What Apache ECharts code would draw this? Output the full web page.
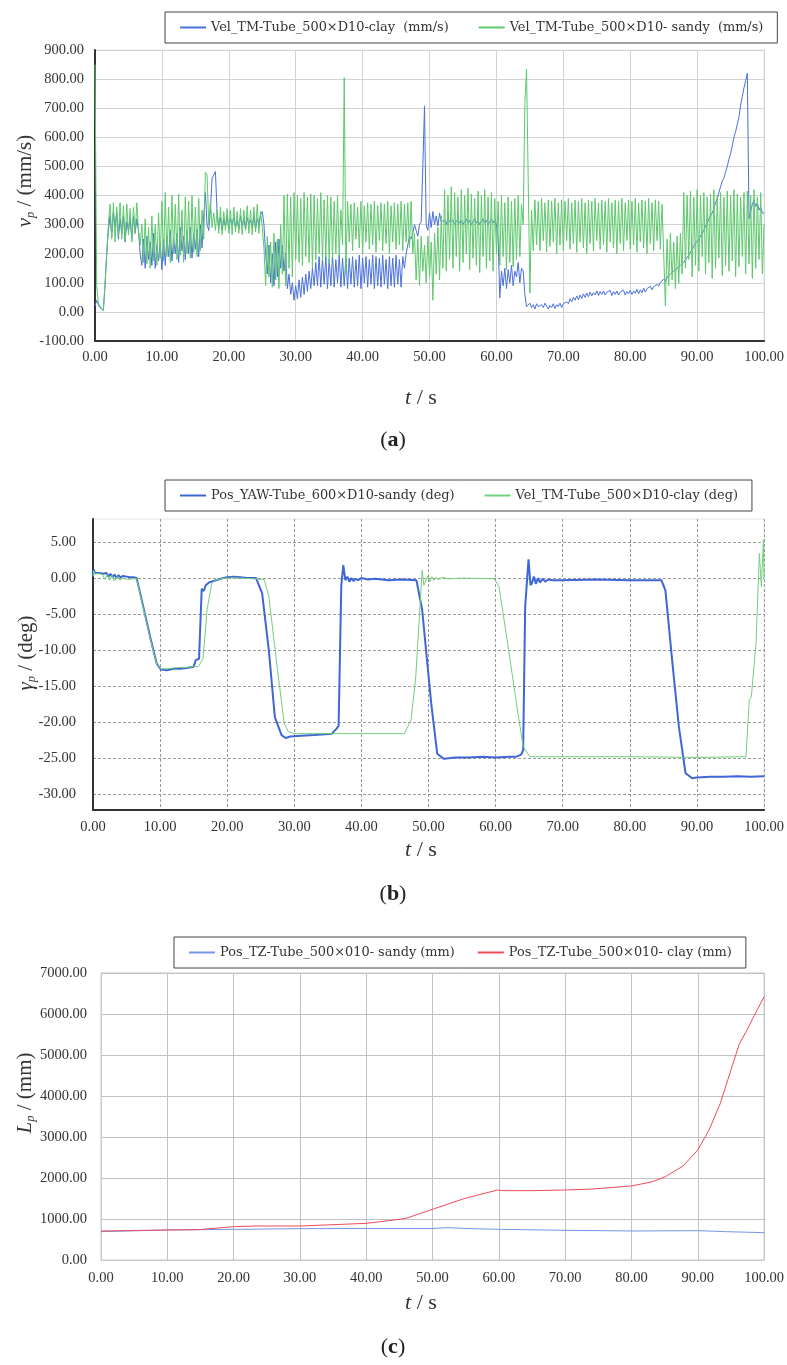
<!DOCTYPE html>
<html><head><meta charset="utf-8">
<script src="https://cdn.jsdelivr.net/npm/echarts@6/dist/echarts.min.js"></script>
<style>html,body{margin:0;padding:0;background:#fff}#c{width:787px;height:1365px}</style>
</head><body><div id="c"></div>
<script>
// ---------- Panel (a): velocity, sampled every 0.25 s ----------
const DT_A = 0.25;
const velClay = [
20,40,25,15,10,5,90,200,
280,330,260,340,290,345,250,320,
270,330,240,310,280,320,250,330,
270,320,280,200,160,250,150,260,
180,240,160,270,150,230,175,240,
145,250,160,260,190,280,175,250,
200,270,170,290,210,260,180,280,
200,290,185,270,215,285,190,300,
220,330,410,300,280,350,460,470,
482,340,290,325,280,320,295,330,
285,320,300,325,290,315,285,330,
295,320,285,325,300,315,290,330,
285,320,300,335,345,300,200,130,
230,100,200,90,240,120,250,150,
230,140,200,80,130,60,100,40,
90,45,110,50,120,60,130,70,
140,80,150,90,170,90,190,85,
185,95,190,80,180,90,195,85,
180,100,195,85,185,90,190,80,
185,95,190,85,180,90,195,80,
185,100,190,85,180,95,195,80,
190,90,185,85,195,95,180,80,
190,90,185,85,195,95,180,85,
190,150,200,230,260,250,270,300,
280,260,300,310,500,708,300,280,
340,290,345,300,330,295,340,310,
305,315,300,320,310,305,315,300,
310,320,305,315,300,310,320,305,
315,300,310,320,305,315,300,310,
320,305,315,300,310,320,305,315,
300,250,48,140,90,150,80,145,
100,160,90,140,120,170,100,150,
140,60,18,20,30,15,25,10,
28,18,12,25,15,30,20,10,
22,15,28,12,25,18,30,15,
28,22,35,28,45,35,50,40,
55,42,58,46,62,50,65,52,
68,55,66,58,72,56,70,60,
72,58,68,62,74,56,70,60,
72,58,68,62,75,58,70,62,
74,60,72,64,78,62,76,66,
82,68,80,74,88,76,86,82,
95,88,102,96,112,104,120,115,
130,125,140,138,150,148,160,165,
170,179,185,195,200,215,220,235,
240,250,255,270,280,295,305,320,
325,340,355,375,390,410,430,450,
460,480,500,525,545,570,600,620,
645,670,710,740,770,795,820,320,
316,370,385,362,375,350,360,340,
339];
const velSandy = [
850,90,30,20,12,5,100,200,
300,370,250,375,240,360,260,375,
250,365,245,370,265,355,240,360,
270,375,280,230,300,170,320,165,
290,150,330,175,300,160,340,185,
380,175,410,190,360,170,400,200,
370,180,405,195,350,170,395,200,
380,185,400,205,360,190,390,210,
350,250,480,470,300,380,290,340,
280,350,270,360,265,345,280,355,
270,350,265,360,275,345,270,355,
265,350,280,365,270,350,265,360,
275,370,270,345,290,220,90,260,
120,240,85,270,110,250,80,300,
130,400,90,405,150,395,120,410,
180,400,170,390,160,410,190,395,
170,405,150,400,180,390,200,410,
175,385,190,400,165,395,185,380,
200,400,190,350,230,805,130,380,
240,370,210,375,250,360,220,380,
200,365,240,375,215,370,230,380,
205,365,245,375,210,370,235,380,
200,365,240,375,215,370,230,380,
210,370,240,375,220,380,200,270,
110,250,90,260,140,230,100,260,
120,240,40,270,130,290,110,330,
150,420,140,400,180,430,150,410,
190,395,140,420,170,400,200,425,
145,405,185,390,160,415,135,400,
190,420,150,395,175,410,140,390,
200,380,160,400,190,375,145,395,
170,380,155,390,180,400,190,370,
300,720,834,830,64,350,210,385,
230,380,210,390,245,375,205,385,
225,380,240,390,200,375,230,385,
210,380,245,390,215,375,235,385,
205,380,240,390,220,375,200,385,
235,380,210,390,245,375,215,385,
230,380,205,390,240,375,220,385,
200,380,235,390,210,375,245,385,
215,380,230,390,205,375,240,385,
220,380,200,390,235,375,210,385,
245,380,215,370,200,20,250,90,
270,110,240,80,260,100,270,130,
410,150,400,180,415,120,395,160,
420,140,400,190,410,130,395,170,
405,115,420,150,400,185,410,125,
395,160,415,140,400,175,420,120,
405,155,395,190,410,130,415,165,
400,115,420,150,395,180,410,130,
300];

// ---------- Panel (b): yaw angle [t, deg] ----------
const yawSandy = [[0,0.3],[0.1,1.2],[0.3,0.7],[1,0.7],[1.5,0.6],[2,0.7],[2.3,0.2],[2.6,0.6],[2.9,0.1],[3.2,0.5],[3.5,0],[3.8,0.4],[4.1,0.1],[4.5,0.3],[5,0.2],[5.5,0.1],[6,0.1],[6.5,0],[7.5,-4],[8.5,-8.1],[9.5,-11.9],[10.1,-12.7],[11,-12.8],[12,-12.6],[13,-12.6],[14,-12.5],[15,-12.3],[15.3,-11.4],[15.8,-11.2],[16.2,-1.5],[16.5,-1.8],[16.8,-1],[17.3,-0.6],[18,-0.4],[19,-0.1],[20,0.1],[21,0.2],[22,0.1],[23,0],[24.3,0],[25.2,-2.1],[26.2,-10],[27.1,-19.3],[28.1,-21.8],[28.7,-22.2],[29.4,-22],[31,-21.9],[33,-21.8],[35.6,-21.6],[36.3,-20.9],[36.6,-20.5],[37.0,-1],[37.3,1.8],[37.6,-0.3],[37.9,0.2],[38.2,-0.5],[38.5,0],[38.8,-0.4],[39.1,-0.1],[39.5,-0.3],[40,0],[41,-0.2],[42,-0.1],[44,-0.3],[46,-0.2],[48.2,-0.3],[49.05,-4.4],[50.4,-17.4],[51.3,-24.4],[52.3,-25.1],[53,-25],[54,-24.9],[56,-24.9],[58,-24.8],[60,-24.9],[62,-24.8],[63.1,-24.8],[63.8,-24.5],[64.1,-23.9],[64.4,-4],[64.9,2.6],[65.2,-1],[65.4,-0.7],[65.7,0.2],[66,-0.8],[66.3,0],[66.6,-0.6],[67,-0.1],[67.4,-0.5],[67.8,-0.2],[68.5,-0.3],[70,-0.3],[75,-0.2],[80,-0.3],[84.7,-0.3],[85.3,-1.7],[86.3,-11.4],[87.3,-20.6],[88.3,-27.1],[89.3,-27.8],[90,-27.7],[92,-27.6],[94,-27.6],[96,-27.5],[98,-27.6],[100,-27.5]];
const yawClay = [[0,0.2],[0.1,1],[0.3,0.6],[1,0.6],[1.4,0.5],[1.8,-0.2],[2.1,0.5],[2.5,-0.3],[2.8,0.4],[3.2,-0.4],[3.6,0.2],[4,-0.3],[4.5,0],[5,-0.2],[6,-0.1],[6.5,-0.1],[7.5,-4.2],[8.5,-8.3],[9.5,-12],[10.1,-12.6],[11,-12.6],[12,-12.5],[13,-12.4],[14,-12.4],[15,-12.3],[15.7,-12.3],[16.4,-11.2],[17,-4.4],[17.7,-0.7],[18.3,-0.3],[19,-0.1],[20,0],[22,0],[24,-0.1],[25.5,-0.2],[26.2,-2.5],[27.5,-12.8],[28.5,-20.2],[29.1,-21.3],[30,-21.6],[35,-21.6],[40,-21.6],[46.4,-21.6],[47.4,-19.7],[48.1,-13.7],[48.7,-4.4],[49.05,1.1],[49.3,-1],[49.6,-0.4],[49.9,0.3],[50.2,-0.5],[50.5,0.2],[50.8,-0.3],[51.1,0.1],[51.5,-0.2],[52,0.1],[53,-0.1],[55,0],[59.8,-0.1],[60.5,-1.2],[61.8,-9.1],[63.1,-17.4],[64.1,-23.4],[65.1,-24.8],[70,-24.8],[80,-24.8],[90,-24.9],[97.3,-24.8],[97.8,-16.9],[98.1,-16.5],[98.8,-9.1],[99.3,3.4],[99.6,-1.2],[99.9,5.3],[100,0]];
const yawTicks = [-30,-25,-20,-15,-10,-5,0,5];

// ---------- Panel (c): position TZ [t, mm] ----------
const tzSandy = [[0,691],[10,732],[20,748],[30,764],[40,768],[50,768],[52.2,789],[54.9,770],[60,748],[70,724],[80,707],[90,715],[94.3,691],[100,667]];
const tzClay = [[0,707],[10,732],[14.7,740],[20,813],[23.3,829],[30,830],[33.8,854],[40,894],[43,951],[46,1016],[50,1236],[54.9,1504],[59.8,1707],[60.5,1692],[64.7,1691],[70,1707],[74,1730],[80,1805],[83.2,1911],[85.1,2033],[87.8,2293],[90,2683],[91.7,3171],[93.4,3821],[95,4634],[96.3,5285],[97.3,5569],[98.3,5894],[100,6420]];

const names = {
  aClay: 'Vel_TM-Tube_500×D10-clay  (mm/s)',
  aSandy: 'Vel_TM-Tube_500×D10- sandy  (mm/s)',
  bSandy: 'Pos_YAW-Tube_600×D10-sandy (deg)',
  bClay: 'Vel_TM-Tube_500×D10-clay (deg)',
  cSandy: 'Pos_TZ-Tube_500×010- sandy (mm)',
  cClay: 'Pos_TZ-Tube_500×010- clay (mm)'
};

const SERIF = "'DejaVu Serif', 'Liberation Serif', serif";
const TSERIF = "'Liberation Serif', 'DejaVu Serif', serif";
const TICK = { fontFamily: TSERIF, fontSize: 14.5, color: '#333' };
const fmt2 = v => v.toFixed(2);
const withT = (arr, dt) => arr.map((v, i) => [i * dt, v]);

function xAx(gi, gridStyle, axisColor, axisW, margin) {
  return {
    type: 'value', gridIndex: gi, min: 0, max: 100, interval: 10,
    axisLine: { show: true, onZero: false, lineStyle: { color: axisColor, width: axisW } },
    axisTick: { show: false },
    axisLabel: Object.assign({ formatter: fmt2, margin: margin }, TICK),
    splitLine: { show: true, lineStyle: gridStyle }
  };
}

const chart = echarts.init(document.getElementById('c'), null, { renderer: 'canvas' });
const gridA = { color: '#d2d2d2', width: 1 };
const gridB = { color: '#9a9a9a', width: 1, type: [3, 2] };
const gridC = { color: '#c2c2c2', width: 1 };

const legendBase = {
  orient: 'horizontal', icon: 'rect', itemWidth: 26, itemHeight: 2, itemGap: 30,
  borderColor: '#444', borderWidth: 1, padding: [9, 14, 9, 15],
  textStyle: { fontFamily: SERIF, fontSize: 12.9, color: '#333' }
};

function yTitle(x, y, main, sub, rest) {
  return {
    type: 'text', x: x, y: y, rotation: Math.PI / 2,
    style: {
      text: '{m|' + main + '}{s|' + sub + '}{r|' + rest + '}',
      align: 'center', verticalAlign: 'middle', fill: '#333',
      rich: {
        m: { fontFamily: TSERIF, fontStyle: 'italic', fontSize: 21, lineHeight: 24, verticalAlign: 'middle', fill: '#333' },
        s: { fontFamily: TSERIF, fontStyle: 'italic', fontSize: 12.5, lineHeight: 24, verticalAlign: 'bottom', fill: '#333' },
        r: { fontFamily: TSERIF, fontSize: 21, lineHeight: 24, verticalAlign: 'middle', fill: '#333' }
      }
    }
  };
}
function xTitle(x, y) {
  return {
    type: 'text', x: x, y: y,
    style: {
      text: '{m|t}{r| / s}', align: 'center', verticalAlign: 'middle',
      rich: {
        m: { fontFamily: TSERIF, fontStyle: 'italic', fontSize: 22, fill: '#333' },
        r: { fontFamily: TSERIF, fontSize: 22, fill: '#333' }
      }
    }
  };
}
function panelTag(x, y, letter) {
  return {
    type: 'text', x: x, y: y,
    style: {
      text: '{r|(}{b|' + letter + '}{r|)}', align: 'center', verticalAlign: 'middle',
      rich: {
        r: { fontFamily: TSERIF, fontSize: 22, fill: '#222' },
        b: { fontFamily: TSERIF, fontSize: 22, fontWeight: 'bold', fill: '#222' }
      }
    }
  };
}

const option = {
  animation: false,
  backgroundColor: '#fff',
  grid: [
    { left: 95, top: 50, width: 671, height: 291, show: true, borderColor: '#e4e4e4', borderWidth: 1 },
    { left: 93, top: 519, width: 675, height: 291, show: true, borderColor: '#e4e4e4', borderWidth: 1 },
    { left: 101, top: 973, width: 669, height: 287, show: true, borderColor: '#c8c8c8', borderWidth: 1 }
  ],
  legend: [
    Object.assign({}, legendBase, { left: 165, top: 12, data: [names.aClay, names.aSandy] }),
    Object.assign({}, legendBase, { left: 165, top: 480, data: [names.bSandy, names.bClay] }),
    Object.assign({}, legendBase, { left: 174, top: 937, itemGap: 23, data: [names.cSandy, names.cClay] })
  ],
  xAxis: [
    xAx(0, gridA, '#333', 2, 9),
    xAx(1, gridB, '#333', 2, 10),
    xAx(2, gridC, '#c8c8c8', 1, 11)
  ],
  yAxis: [
    {
      type: 'value', gridIndex: 0, min: -100, max: 900, interval: 100,
      axisLine: { show: true, onZero: false, lineStyle: { color: '#333', width: 2 } },
      axisTick: { show: false },
      axisLabel: Object.assign({ formatter: fmt2, margin: 11 }, TICK),
      splitLine: { show: true, lineStyle: gridA }
    },
    {
      type: 'value', gridIndex: 1, min: -32.2, max: 8.2,
      axisLine: { show: true, onZero: false, lineStyle: { color: '#333', width: 2 } },
      axisTick: { show: false, customValues: yawTicks },
      axisLabel: Object.assign({ customValues: yawTicks, formatter: fmt2, margin: 17 }, TICK),
      splitLine: { show: true, lineStyle: gridB }
    },
    {
      type: 'value', gridIndex: 2, min: 0, max: 7000, interval: 1000,
      axisLine: { show: true, onZero: false, lineStyle: { color: '#c8c8c8', width: 1 } },
      axisTick: { show: false },
      axisLabel: Object.assign({ formatter: fmt2, margin: 14 }, TICK),
      splitLine: { show: true, lineStyle: gridC }
    }
  ],
  series: [
    { name: names.aClay, type: 'line', xAxisIndex: 0, yAxisIndex: 0, data: withT(velClay, DT_A), showSymbol: false, symbol: 'none', lineStyle: { width: 1, color: '#4a70dc' }, itemStyle: { color: '#4a70dc' } },
    { name: names.aSandy, type: 'line', xAxisIndex: 0, yAxisIndex: 0, data: withT(velSandy, DT_A), showSymbol: false, symbol: 'none', lineStyle: { width: 1, color: '#5cc96b' }, itemStyle: { color: '#5cc96b' } },
    { name: names.bSandy, type: 'line', xAxisIndex: 1, yAxisIndex: 1, data: yawSandy, showSymbol: false, symbol: 'none', lineStyle: { width: 2, color: '#3e66d6' }, itemStyle: { color: '#3e66d6' } },
    { name: names.bClay, type: 'line', xAxisIndex: 1, yAxisIndex: 1, data: yawClay, showSymbol: false, symbol: 'none', lineStyle: { width: 1, color: '#72cf7c' }, itemStyle: { color: '#72cf7c' } },
    { name: names.cSandy, type: 'line', xAxisIndex: 2, yAxisIndex: 2, data: tzSandy, showSymbol: false, symbol: 'none', lineStyle: { width: 1, color: '#7397e6' }, itemStyle: { color: '#7397e6' } },
    { name: names.cClay, type: 'line', xAxisIndex: 2, yAxisIndex: 2, data: tzClay, showSymbol: false, symbol: 'none', lineStyle: { width: 1, color: '#f04a58' }, itemStyle: { color: '#f04a58' } }
  ],
  graphic: [
    yTitle(25, 181, 'v', 'p', ' / (mm/s)'),
    yTitle(26, 653, 'γ', 'p', ' / (deg)'),
    yTitle(25, 1093, 'L', 'p', ' / (mm)'),
    xTitle(421, 398),
    xTitle(421, 850),
    xTitle(421, 1303),
    panelTag(393, 440, 'a'),
    panelTag(393, 894, 'b'),
    panelTag(393, 1347, 'c')
  ]
};
chart.setOption(option);
</script>
</body></html>
